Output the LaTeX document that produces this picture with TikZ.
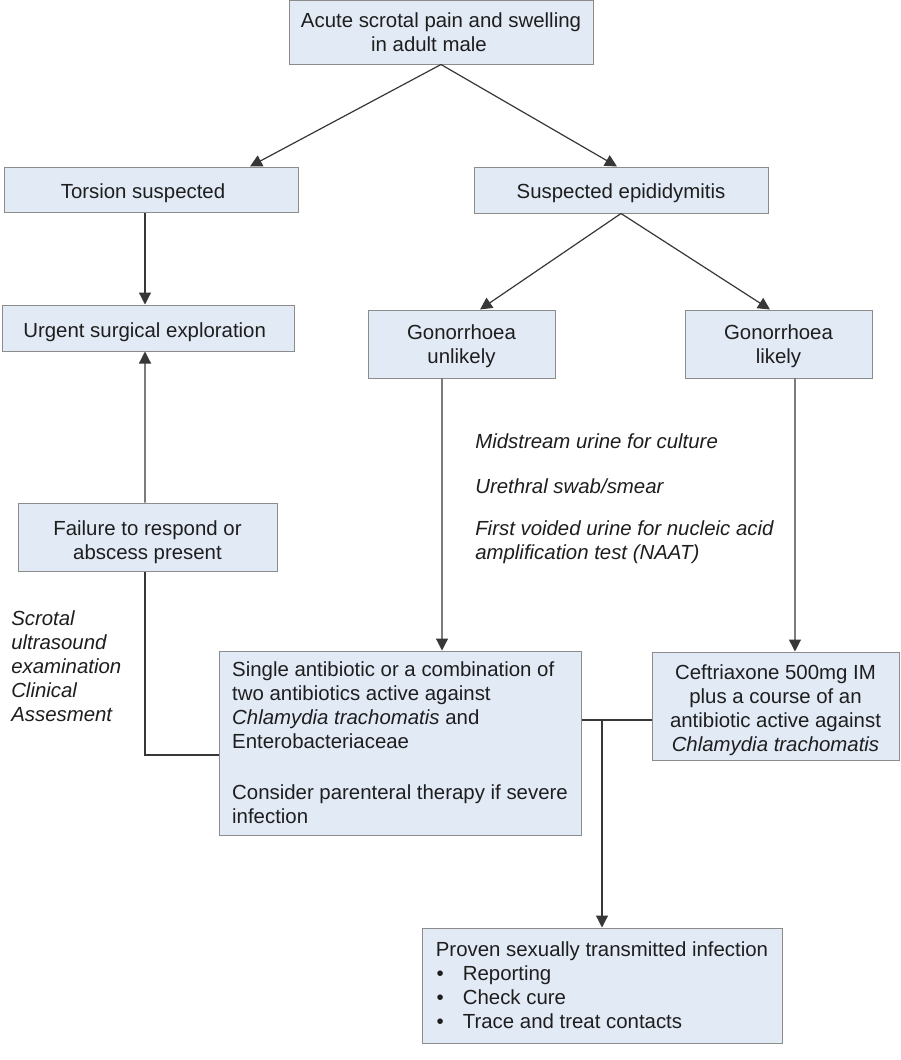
\documentclass[tikz,border=0pt]{standalone}
\usepackage{fontspec}
\setmainfont{Liberation Sans}
\usetikzlibrary{arrows.meta,calc}
\definecolor{boxfill}{RGB}{226,234,246}
\definecolor{boxline}{RGB}{140,140,140}
\definecolor{connc}{RGB}{55,55,55}
\definecolor{txt}{RGB}{30,30,30}
\newcommand{\dnstrut}[1]{\rule{0pt}{#1}}
\begin{document}
\begin{tikzpicture}[x=0.75pt,y=-0.75pt,
  every node/.style={font=\fontsize{15.3pt}{18pt}\selectfont, text=txt},
  box/.style={draw=boxline, fill=boxfill, line width=0.75pt, inner sep=0pt, align=center},
  conn/.style={draw=connc, line width=0.9pt},
  arr/.style={conn, -{Triangle[length=9pt,width=9pt]}},
  note/.style={font=\fontsize{15.3pt}{18pt}\selectfont\itshape, align=left, inner sep=0pt}]
\useasboundingbox[fill=white] (0,0) rectangle (900,1060);

\node[box, minimum width=228pt, minimum height=48pt] (A) at (441,32) {Acute scrotal pain and swelling\\in adult male\kern18pt};
\node[box, minimum width=220.5pt, minimum height=33.75pt] (T) at (151,189.5) {\dnstrut{17pt}Torsion suspected\kern12pt};
\node[box, minimum width=220.5pt, minimum height=34.5pt] (E) at (621,190) {\dnstrut{16pt}Suspected epididymitis};
\node[box, minimum width=219pt, minimum height=34.5pt] (U) at (148,328) {\dnstrut{17pt}Urgent surgical exploration\kern5pt};
\node[box, minimum width=140.25pt, minimum height=51pt] (GU) at (461.5,344) {\dnstrut{14pt}Gonorrhoea\\unlikely};
\node[box, minimum width=140.25pt, minimum height=51pt] (GL) at (778.5,344) {\dnstrut{14pt}Gonorrhoea\\likely};
\node[box, minimum width=194.25pt, minimum height=51pt] (F) at (147.5,537) {\dnstrut{18.5pt}Failure to respond or\\abscess present};
\node[box, align=left, minimum width=271.5pt, minimum height=138pt] (S) at (400,743) {Single antibiotic or a combination of\\two antibiotics active against\\\textit{Chlamydia trachomatis} and\\Enterobacteriaceae\\[20pt]Consider parenteral therapy if severe\\infection\kern-3pt};
\node[box, minimum width=185.25pt, minimum height=81pt] (C) at (775.5,706) {\dnstrut{17pt}Ceftriaxone 500mg IM\\plus a course of an\\antibiotic active against\\\textit{Chlamydia trachomatis}};
\node[box, align=left, minimum width=270pt, minimum height=86.25pt] (P) at (602,985.5) {Proven sexually transmitted infection\\\makebox[20.25pt][l]{\hspace{0.5pt}\textbullet}Reporting\\\makebox[20.25pt][l]{\hspace{0.5pt}\textbullet}Check cure\\\makebox[20.25pt][l]{\hspace{0.5pt}\textbullet}Trace and treat contacts};

\node[note, anchor=west] (m1) at (475,441) {Midstream urine for culture};
\node[note, anchor=west] (m2) at (475,486) {Urethral swab/smear};
\node[note, anchor=west] (m3) at (475,542) {First voided urine for nucleic acid\\amplification test (NAAT)};
\node[note, anchor=west] (sc) at (11,666.5) {Scrotal\\ultrasound\\examination\\Clinical\\Assesment};

\draw[arr] (A.south) -- ([xshift=74.25pt]T.north);
\draw[arr] (A.south) -- ([xshift=-3pt]E.north);
\draw[arr] ([xshift=-4.5pt]T.south) -- ([xshift=-2.25pt]U.north);
\draw[arr] (E.south) -- ([xshift=13.9pt]GU.north);
\draw[arr] (E.south) -- ([xshift=-6.4pt]GL.north);
\draw[arr] ([xshift=-14.6pt]GU.south) -- ([xshift=31.5pt]S.north);
\draw[arr] ([xshift=12.4pt]GL.south) -- ([xshift=14.6pt]C.north);
\draw[arr] ([xshift=-1.9pt]F.north) -- ([xshift=-2.25pt]U.south);
\draw[conn] ([yshift=-9pt]S.west) -| ([xshift=-1.9pt]F.south);
\coordinate (j) at ([yshift=17.25pt]S.east);
\draw[conn] (j) -- (j -| C.west);
\draw[arr] (j -| P.north) -- (P.north);
\end{tikzpicture}
\end{document}
